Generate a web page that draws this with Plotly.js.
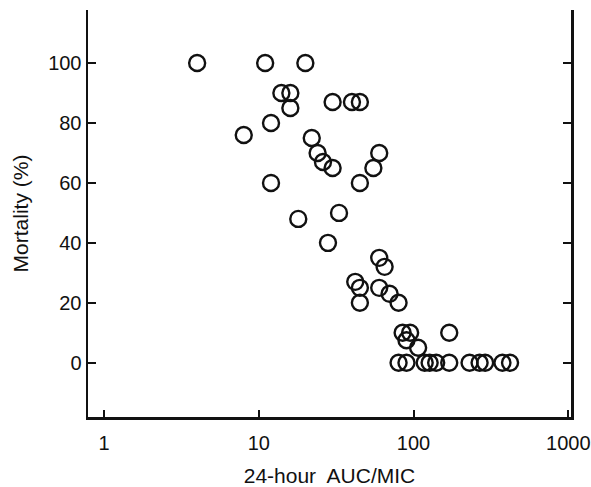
<!DOCTYPE html>
<html>
<head>
<meta charset="utf-8">
<script src="https://cdn.plot.ly/plotly-3.0.1.min.js"></script>
<style>
  html, body { margin: 0; padding: 0; background: #fff; }
  #chart { width: 591px; height: 487px; }
</style>
</head>
<body>
<div id="chart"></div>
<script>
// 24-hour AUC/MIC values
const aucMic = [4, 11, 20, 14, 16, 16, 8, 12, 12, 18, 33, 28,
                30, 40, 45, 22, 24, 26, 30, 60, 55, 45,
                60, 65, 42, 45, 45, 60, 70, 80,
                85, 95, 90, 107, 170,
                80, 90, 118, 127, 140, 170, 230, 267, 290, 375, 420];
// Mortality (%)
const mortality = [100, 100, 100, 90, 90, 85, 76, 80, 60, 48, 50, 40,
                   87, 87, 87, 75, 70, 67, 65, 70, 65, 60,
                   35, 32, 27, 25, 20, 25, 23, 20,
                   10, 10, 7.5, 5, 10,
                   0, 0, 0, 0, 0, 0, 0, 0, 0, 0, 0];
const xTickVals = [1, 10, 100, 1000];
const xTickText = ['1', '10', '100', '1000'];
const yTickVals = [0, 20, 40, 60, 80, 100];

const FONT = 'Liberation Sans, Arial, Helvetica, sans-serif';

const trace = {
  type: 'scatter',
  mode: 'markers',
  x: aucMic,
  y: mortality,
  marker: {
    symbol: 'circle-open',
    size: 16,
    color: '#111',
    line: { width: 2.4, color: '#111' }
  },
  hoverinfo: 'x+y'
};

const layout = {
  width: 591,
  height: 487,
  margin: { l: 88, r: 20, t: 10, b: 70 },
  paper_bgcolor: '#fff',
  plot_bgcolor: '#fff',
  showlegend: false,
  font: { family: FONT, size: 20, color: '#111' },
  xaxis: {
    type: 'log',
    range: [-0.103, 3.017],
    tickvals: xTickVals,
    ticktext: xTickText,
    ticks: 'inside',
    ticklen: 7,
    tickwidth: 2,
    tickcolor: '#111',
    showline: true,
    linewidth: 2.5,
    linecolor: '#111',
    mirror: false,
    showgrid: false,
    zeroline: false,
    ticklabelstandoff: 6,
    tickfont: { family: FONT, size: 20, color: '#111' },
    title: { text: '24-hour  AUC/MIC', font: { family: FONT, size: 21, color: '#111' }, standoff: 16 }
  },
  yaxis: {
    range: [-18.1, 117.7],
    tickvals: yTickVals,
    ticks: 'inside',
    ticklen: 8,
    tickwidth: 2,
    tickcolor: '#111',
    showline: true,
    linewidth: 2.5,
    linecolor: '#111',
    mirror: 'ticks',
    showgrid: false,
    zeroline: false,
    tickfont: { family: FONT, size: 20, color: '#111' },
    title: { text: 'Mortality (%)', font: { family: FONT, size: 21, color: '#111' }, standoff: 14 }
  }
};

Plotly.newPlot('chart', [trace], layout, { displayModeBar: false, staticPlot: true });
</script>
</body>
</html>
